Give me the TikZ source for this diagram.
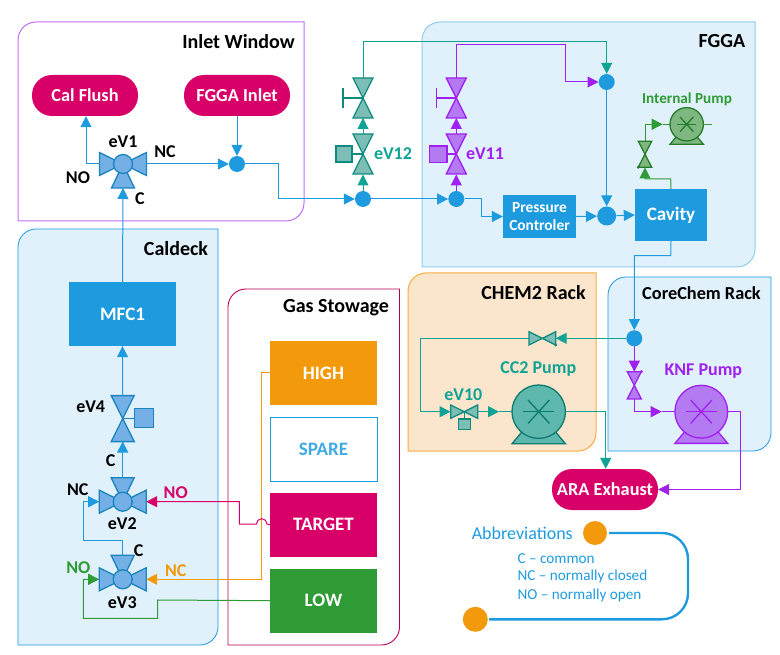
\documentclass[tikz,border=0pt]{standalone}
\usepackage{fontspec}
\setmainfont{Carlito}
\usepackage{tikz}
\usetikzlibrary{positioning}
\usetikzlibrary{arrows.meta}

\definecolor{cblue}{HTML}{1E9BDF}
\definecolor{cteal}{HTML}{0FA394}
\definecolor{cpurple}{HTML}{A020F0}
\definecolor{cgreen}{HTML}{2E9B35}
\definecolor{corange}{HTML}{F29A0C}
\definecolor{cpink}{HTML}{D80068}
\definecolor{cpale}{HTML}{E0F1FC}
\definecolor{cpeach}{HTML}{FBE5CC}
\definecolor{fblue}{HTML}{74B0E6}
\definecolor{fteal}{HTML}{7CBDB6}
\definecolor{fpump}{HTML}{5FB8AE}
\definecolor{fpurple}{HTML}{B47AF2}
\definecolor{fgreen}{HTML}{7FB780}

% region with two rounded corners: style, x1, y1, x2, y2
\newcommand{\regionbox}[5]{
  \draw[#1] (#2,#5) -- (#2,#3+18) arc[start angle=180,end angle=90,radius=18pt] -- (#4,#3)
     -- (#4,#5-18) arc[start angle=0,end angle=-90,radius=18pt] -- cycle;
}
% upright valve: style, x, y, half height, half width
\newcommand{\vvalve}[5]{
  \draw[#1] (#2-#5,#3-#4) -- (#2+#5,#3-#4) -- (#2-#5,#3+#4) -- (#2+#5,#3+#4) -- cycle;
}
% three way valve: x, y, side of the third leg (1 below, -1 above)
\newcommand{\threeway}[3]{
  \draw[valveblue] (#1,#2) -- (#1-23.5,#2-11.5) -- (#1-23.5,#2+11.5) -- cycle;
  \draw[valveblue] (#1,#2) -- (#1+23.5,#2-11.5) -- (#1+23.5,#2+11.5) -- cycle;
  \draw[valveblue] (#1,#2) -- (#1-11.5,#2+#3*24) -- (#1+11.5,#2+#3*24) -- cycle;
  \draw[valveblue] (#1,#2) circle (9.5pt);
}
% pump: style, x, y, radius
\newcommand{\pump}[4]{
  \draw[#1] (#2-#4,#3+1.2*#4) -- (#2+#4,#3+1.2*#4) -- (#2+0.5*#4,#3+0.6*#4) -- (#2-0.5*#4,#3+0.6*#4) -- cycle;
  \draw[#1] (#2,#3) circle (#4 pt);
  \draw[#1] (#2-0.58*#4,#3) -- (#2+0.58*#4,#3);
  \draw[#1] (#2-0.4*#4,#3-0.44*#4) -- (#2+0.4*#4,#3+0.44*#4);
  \draw[#1] (#2-0.4*#4,#3+0.44*#4) -- (#2+0.4*#4,#3-0.44*#4);
}

\begin{document}
\begin{tikzpicture}[x=1pt,y=-1pt]
\tikzset{
  title/.style={font=\bfseries\fontsize{20}{22}\selectfont, text=black},
  tag/.style={font=\bfseries\fontsize{18}{20}\selectfont, text=black},
  pill/.style={rectangle, rounded corners=20pt, fill=cpink, text=white, minimum width=106pt, minimum height=41pt,
     inner sep=0pt, font=\bfseries\fontsize{18.3}{20}\selectfont},
  block/.style={rectangle, fill=cblue, text=white, align=center, inner sep=0pt, font=\bfseries\fontsize{19}{21}\selectfont},
  gas/.style={block, minimum width=107pt, minimum height=64pt},
  joint/.style={circle, fill=cblue, inner sep=0pt, minimum size=16pt},
  line/.style={draw, line width=1pt, line join=miter},
  tip/.style={-{Triangle[length=11pt,width=11pt]}},
  linkblue/.style={line, cblue},
  linkteal/.style={line, cteal},
  linkpurple/.style={line, cpurple},
  linkgreen/.style={line, cgreen},
  linkorange/.style={line, corange},
  linkpink/.style={line, cpink},
  valveblue/.style={draw=cblue!85!black, fill=fblue, line width=1.3pt},
  valveteal/.style={draw=cteal!85!black, fill=fteal, line width=1.3pt},
  pumpteal/.style={draw=cteal!75!black, fill=fpump, line width=1.3pt},
  valvepurple/.style={draw=cpurple, fill=fpurple, line width=1.3pt},
  valvegreen/.style={draw=cgreen!80!black, fill=fgreen, line width=1.3pt},
}
\useasboundingbox (0,0) rectangle (780,655);

% regions
\regionbox{draw=cpurple!65!white, fill=white, line width=1pt}{18}{22}{304}{221}
\regionbox{draw=cblue, fill=cpale, line width=0.8pt}{18}{229}{218}{645}
\regionbox{draw=cpink!85!black, fill=white, line width=0.9pt}{228}{289}{399.5}{645}
\regionbox{draw=cblue!50!white, fill=cpale, line width=1pt}{422}{22}{755}{267}
\regionbox{draw=corange!80!white, fill=cpeach, line width=1pt}{408}{273}{596}{451}
\regionbox{draw=cblue, fill=cpale, line width=0.8pt}{608}{277}{771}{451}

\node [title] (inletT) at (238.5,41.5) {Inlet Window};
\node [title] (caldeckT) at (176,249) {Caldeck};
\node [title] (gasT) at (336,307.5) {Gas Stowage};
\node [title] (fggaT) at (722,41.5) {FGGA};
\node [title] (chemT) at (533.5,292.5) {CHEM2 Rack};
\node [title, font=\bfseries\fontsize{18.3}{20}\selectfont] (coreT) at (701.5,293.5) {CoreChem Rack};

% boxes and pills
\node [pill] (flush) at (85,95.5) {Cal Flush};
\node [pill] (inlet) at (237,95.5) {FGGA Inlet};
\node [pill] (exhaust) at (605,489.5) {ARA Exhaust};
\node [block, minimum width=107pt, minimum height=64pt] (mfc) at (122.5,314) {MFC1};
\node [block, minimum width=73pt, minimum height=43pt, font=\bfseries\fontsize{15.4}{18}\selectfont] (press) at (539.5,216.5) {Pressure\\Controler};
\node [block, minimum width=72pt, minimum height=52pt] (cavity) at (671,215) {Cavity};

\node [gas, fill=corange] (high) at (323.5,373) {HIGH};
\node [gas, below=11.5pt of high, fill=white, draw=cblue, text=cblue!85!white] (spare) {SPARE};
\node [gas, below=11.5pt of spare, fill=cpink] (target) {TARGET};
\node [gas, below=11.5pt of target, fill=cgreen] (low) {LOW};

% junctions
\node [joint] (jA) at (237,164) {};
\node [joint] (jB) at (363,199) {};
\node [joint] (jC) at (456.3,199) {};
\node [joint] (jD) at (606.7,82) {};
\node [joint, minimum size=19pt] (jE) at (606.7,216) {};
\node [joint] (jF) at (634.3,338.3) {};

% valve ends
\coordinate (ev1L) at (99.5,164);
\coordinate (ev1R) at (146.5,164);
\coordinate (ev1B) at (123,188);
\coordinate (ev2T) at (122.7,478);
\coordinate (ev2L) at (99.2,501.7);
\coordinate (ev2R) at (146.2,501.7);
\coordinate (ev3T) at (122.7,556);
\coordinate (ev3L) at (99.2,579.3);
\coordinate (ev3R) at (146.2,579.3);
\coordinate (ev4T) at (122.7,395.7);
\coordinate (ev4B) at (122.7,441.5);
\coordinate (ev12B) at (363,174.5);
\coordinate (ev12T) at (363,134);
\coordinate (man12B) at (363,118);
\coordinate (man12T) at (363,78);
\coordinate (ev11B) at (456.3,174.5);
\coordinate (ev11T) at (456.3,134);
\coordinate (man11B) at (456.3,118);
\coordinate (man11T) at (456.3,78);
\coordinate (greenB) at (645,167.5);
\coordinate (greenT) at (645,141);
\coordinate (checkR) at (555.7,338.3);
\coordinate (checkL) at (529,338.3);
\coordinate (knfvT) at (634.3,371.7);
\coordinate (knfvB) at (634.3,399);
\coordinate (ev10L) at (450.5,411.7);
\coordinate (ev10R) at (477.7,411.7);
\coordinate (intIn) at (662.7,124.3);
\coordinate (intL) at (670,124.3);
\coordinate (intR) at (703.4,124.3);
\coordinate (intOut) at (711.7,124.3);
\coordinate (ccIn) at (499,411.7);
\coordinate (ccL) at (512,411.7);
\coordinate (ccR) at (565.4,411.7);
\coordinate (knfIn) at (661.7,411.7);
\coordinate (knfL) at (675,411.7);
\coordinate (knfR) at (727.7,411.7);

% inlet window
\path [linkblue, tip] (ev1L) -- (86,164) -- (86,0 |- flush.south);
\path [linkblue, tip] (ev1R) -- (jA);
\path [linkblue, tip] (inlet.south) -- (jA);
\path [linkblue, tip] (jA) -- (278,164) -- (278,199) -- (jB);
\path [linkblue, tip] (jB) -- (jC);
\path [linkblue, tip] (mfc.north) -- (ev1B);

% caldeck
\path [linkblue, tip] (ev4T) -- (mfc.south);
\path [linkblue, tip] (ev2T) -- (ev4B);
\path [linkblue, tip] (ev3T) -- (122.7,540.7) -- (83.3,540.7) -- (83.3,501.7) -- (ev2L);
\path [linkgreen, tip] (low.west) -- (157.7,600) -- (157.7,618.3) -- (83.3,618.3) -- (83.3,579.3) -- (ev3L);
\path [linkorange, tip] (high.west) -- (261.7,373) -- (261.7,579.3) -- (ev3R);
\path [linkpink, tip] (target.west) -- (267,524) arc[start angle=0,end angle=180,radius=5.3pt] -- (239.3,524) -- (239.3,501.7) -- (ev2R);

% fgga
\path [linkteal, tip] (jB) -- (ev12B);
\path [linkteal, tip] (ev12T) -- (man12B);
\path [linkteal, tip] (man12T) -- (363,41.7) -- (606.7,41.7) -- (jD);
\path [linkpurple, tip] (jC) -- (ev11B);
\path [linkpurple, tip] (ev11T) -- (man11B);
\path [linkpurple, tip] (man11T) -- (456.3,45) -- (565.7,45) -- (565.7,82) -- (jD);
\path [linkblue, tip] (jD) -- (jE);
\path [linkblue, tip] (jC) -- (481.7,199) -- (481.7,216.5) -- (press.west);
\path [linkblue, tip] (press.east) -- (jE);
\path [linkblue, tip] (jE) -- (cavity.west);
\path [linkgreen, tip] (cavity.north) -- (670.7,179) -- (645,179) -- (greenB);
\path [linkgreen, tip] (greenT) -- (645,124.3) -- (intIn);
\path [linkgreen] (intIn) -- (intL);
\path [linkgreen] (intR) -- (intOut);

% racks
\path [linkblue, tip] (cavity.south) -- (670.7,255.7) -- (634.3,255.7) -- (jF);
\path [linkteal, tip] (jF) -- (checkR);
\path [linkteal, tip] (checkL) -- (420,338.3) -- (420,411.7) -- (ev10L);
\path [linkteal, tip] (ev10R) -- (ccIn);
\path [linkteal] (ccIn) -- (ccL);
\path [linkteal, tip] (ccR) -- (605.7,411.7) -- (605.7,0 |- exhaust.north);
\path [linkpurple, tip] (jF) -- (knfvT);
\path [linkpurple, tip] (knfvB) -- (634.3,411.7) -- (knfIn);
\path [linkpurple] (knfIn) -- (knfL);
\path [linkpurple, tip] (knfR) -- (740.7,411.7) -- (740.7,489.5) -- (exhaust.east);

% valves
\threeway{123}{164}{1}
\threeway{122.7}{501.7}{-1}
\threeway{122.7}{579.3}{-1}
\vvalve{valveblue}{122.7}{418.6}{23}{11.5}
\draw[valveblue] (122.7,418.3) -- (134.3,418.3);
\draw[valveblue] (134.3,408.7) rectangle (153.3,427.7);

\vvalve{valveteal}{363}{98}{20}{10}
\draw[valveteal] (343,98) -- (363,98);
\draw[valveteal] (343,88) -- (343,108);
\vvalve{valveteal}{363}{154}{20}{10}
\draw[valveteal] (352,154) -- (363,154);
\draw[valveteal] (336,146) rectangle (352,162);

\vvalve{valvepurple}{456.3}{98}{20}{10}
\draw[valvepurple] (436.7,98) -- (456.3,98);
\draw[valvepurple] (436.7,88) -- (436.7,108);
\vvalve{valvepurple}{456.3}{154}{20}{10}
\draw[valvepurple] (447,154) -- (456.3,154);
\draw[valvepurple] (429.5,146) rectangle (447,162.5);

\vvalve{valvegreen}{645}{154.2}{13}{6.7}
\fill[cgreen!80!black] (638.3,167.2) circle (1.7pt);

\draw[valveteal] (529,331.7) -- (529,345) -- (555.7,331.7) -- (555.7,345) -- cycle;
\fill[cteal!85!black] (555.7,345) circle (1.7pt);
\draw[valveteal] (450.7,405) -- (450.7,418.4) -- (477.7,405) -- (477.7,418.4) -- cycle;
\draw[valveteal] (464.2,411.7) -- (464.2,419);
\draw[valveteal] (458.7,419) rectangle (470.7,429.3);

\vvalve{valvepurple}{634.3}{385.3}{13.6}{7}
\fill[cpurple] (641.3,371.7) circle (1.7pt);

% pumps
\pump{valvegreen}{686.7}{124.3}{16.7}
\pump{pumpteal}{538.7}{411.7}{26.7}
\pump{valvepurple}{701.3}{411.7}{26.4}

% labels
\node [tag] (ev1lab) at (123,142) {eV1};
\node [tag] (ev1nc) at (165,152) {NC};
\node [tag] (ev1no) at (78,178) {NO};
\node [tag] (ev1c) at (140,199) {C};
\node [tag] (ev4lab) at (90.7,406.7) {eV4};
\node [tag] (ev2c) at (110.7,460.3) {C};
\node [tag] (ev2nc) at (77.7,490) {NC};
\node [tag] (ev2lab) at (122.3,524) {eV2};
\node [tag, text=cpink] (ev2no) at (175.7,492.7) {NO};
\node [tag] (ev3c) at (138.7,550.7) {C};
\node [tag, text=cgreen] (ev3no) at (78.3,567.3) {NO};
\node [tag, text=corange] (ev3nc) at (175.7,570.7) {NC};
\node [tag] (ev3lab) at (122.3,602.7) {eV3};
\node [tag, text=cteal] (ev12lab) at (393,154) {eV12};
\node [tag, text=cpurple] (ev11lab) at (485,154) {eV11};
\node [tag, text=cgreen, font=\bfseries\fontsize{15.2}{17}\selectfont] (intlab) at (687,99) {Internal Pump};
\node [tag, text=cteal] (cclab) at (538.3,369) {CC2 Pump};
\node [tag, text=cpurple] (knflab) at (703.3,370.7) {KNF Pump};
\node [tag, text=cteal] (ev10lab) at (463.3,395) {eV10};

% abbreviations
\node [circle, fill=corange, inner sep=0pt, minimum size=24pt] (dotA) at (595,533) {};
\node [circle, fill=corange, inner sep=0pt, minimum size=25pt] (dotB) at (475.3,619.3) {};
\path [draw, cblue, line width=2.4pt, rounded corners=26pt] (609,533) -- (688,533) -- (688,619.3) -- (489,619.3);
\node [text=cblue, font=\fontsize{18}{20}\selectfont] (abbr) at (522.3,533.3) {Abbreviations};
\node [text=cblue, anchor=west, inner sep=0pt, font=\fontsize{15.2}{17}\selectfont] (abbrC) at (517.3,558.7) {C -- common};
\node [text=cblue, anchor=west, inner sep=0pt, font=\fontsize{15.2}{17}\selectfont] (abbrNC) at (517.3,576.5) {NC -- normally closed};
\node [text=cblue, anchor=west, inner sep=0pt, font=\fontsize{15.2}{17}\selectfont] (abbrNO) at (517.3,595.3) {NO -- normally open};
\end{tikzpicture}
\end{document}
